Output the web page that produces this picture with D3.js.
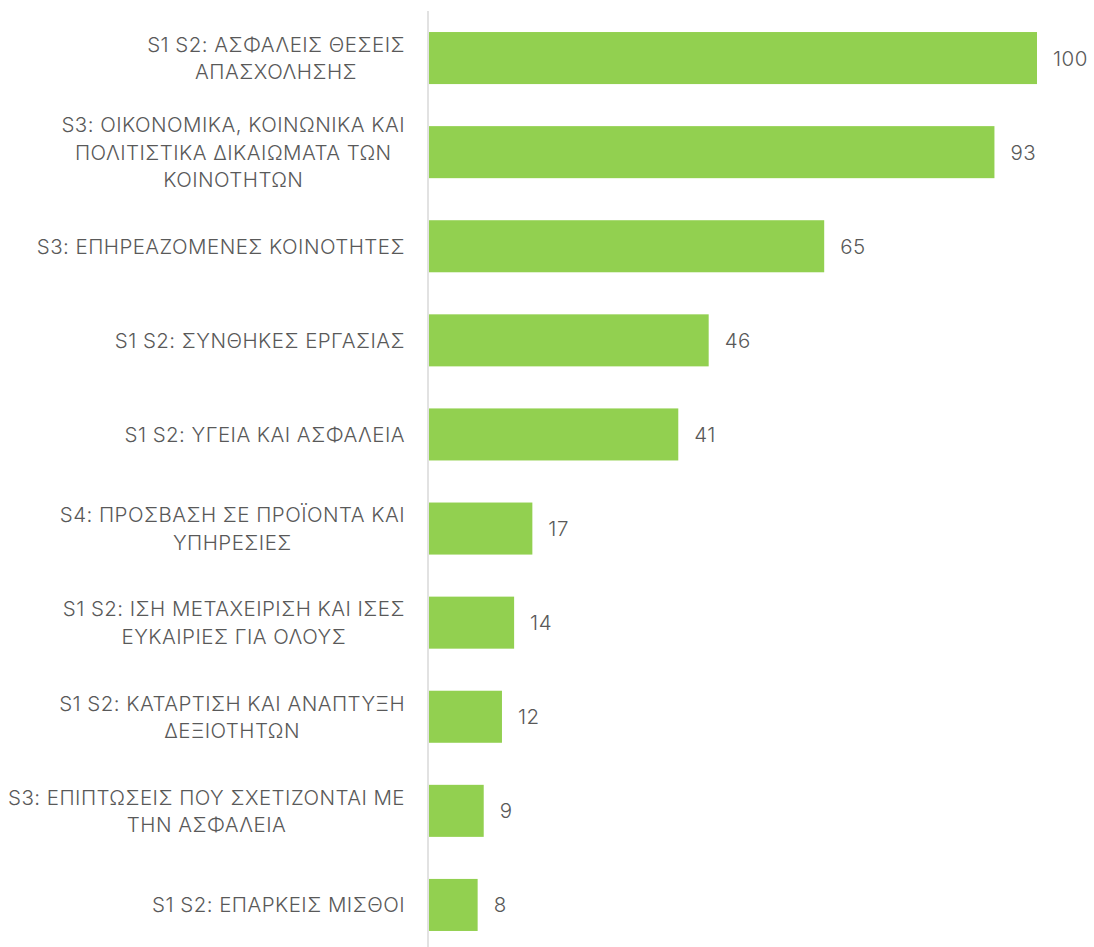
<!DOCTYPE html>
<html lang="el">
<head>
	<meta charset="utf-8">
	<title>Θέματα</title>
	<script src="https://d3js.org/d3.v7.min.js"></script>
	<style type="text/css">
		body { margin: 0; background: #fff; }
		.label text, .value {
			font-family: Inter, "Noto Sans", sans-serif;
			font-size: 20.5px;
			font-weight: 300;
			letter-spacing: 0.45px;
			fill: #595959;
		}
	</style>
</head>
<body>
	<script type="text/javascript">

		// Categories (line breaks as in the picture) and their values
		var categories = [
			"S1 S2: ΑΣΦΑΛΕΙΣ ΘΕΣΕΙΣ\nΑΠΑΣΧΟΛΗΣΗΣ",
			"S3: ΟΙΚΟΝΟΜΙΚΑ, ΚΟΙΝΩΝΙΚΑ ΚΑΙ\nΠΟΛΙΤΙΣΤΙΚΑ ΔΙΚΑΙΩΜΑΤΑ ΤΩΝ\nΚΟΙΝΟΤΗΤΩΝ",
			"S3: ΕΠΗΡΕΑΖΟΜΕΝΕΣ ΚΟΙΝΟΤΗΤΕΣ",
			"S1 S2: ΣΥΝΘΗΚΕΣ ΕΡΓΑΣΙΑΣ",
			"S1 S2: ΥΓΕΙΑ ΚΑΙ ΑΣΦΑΛΕΙΑ",
			"S4: ΠΡΟΣΒΑΣΗ ΣΕ ΠΡΟΪΟΝΤΑ ΚΑΙ\nΥΠΗΡΕΣΙΕΣ",
			"S1 S2: ΙΣΗ ΜΕΤΑΧΕΙΡΙΣΗ ΚΑΙ ΙΣΕΣ\nΕΥΚΑΙΡΙΕΣ ΓΙΑ ΟΛΟΥΣ",
			"S1 S2: ΚΑΤΑΡΤΙΣΗ ΚΑΙ ΑΝΑΠΤΥΞΗ\nΔΕΞΙΟΤΗΤΩΝ",
			"S3: ΕΠΙΠΤΩΣΕΙΣ ΠΟΥ ΣΧΕΤΙΖΟΝΤΑΙ ΜΕ\nΤΗΝ ΑΣΦΑΛΕΙΑ",
			"S1 S2: ΕΠΑΡΚΕΙΣ ΜΙΣΘΟΙ"
		];
		var values = [100, 93, 65, 46, 41, 17, 14, 12, 9, 8];

		var width = 1094, height = 947;
		var axisX = 428;

		var svg = d3.select("body")
					.append("svg")
					.attr("width", width)
					.attr("height", height);

		var xScale = d3.scaleLinear()
						.domain([0, 100])
						.range([axisX + 1, 1037]);

		var yScale = d3.scaleBand()
						.domain(categories)
						.range([11, 952])
						.paddingInner(0.447)
						.paddingOuter(0.2235);

		// Bars
		svg.selectAll("rect")
		   .data(values)
		   .enter()
			   .append("rect")
			   .attr("x", xScale(0))
			   .attr("y", function(d, i) { return yScale(categories[i]); })
			   .attr("width", function(d) { return xScale(d) - xScale(0); })
			   .attr("height", yScale.bandwidth())
			   .attr("fill", "#92d050");

		// Vertical axis line
		svg.append("line")
			.attr("x1", axisX).attr("x2", axisX)
			.attr("y1", 11).attr("y2", height)
			.attr("stroke", "#d9d9d9")
			.attr("stroke-width", 1.5);

		// Category labels, right aligned, multi line
		var lineHeight = 27.5;
		var labels = svg.append("g").attr("class", "label")
			.selectAll("text")
			.data(categories)
			.enter()
				.append("text")
				.attr("text-anchor", "middle")
				.attr("y", function(d) { return yScale(d) + yScale.bandwidth() / 2; });

		labels.each(function(d) {
			var lines = d.split("\n");
			var t = d3.select(this);
			var top = -(lines.length - 1) * lineHeight / 2;
			lines.forEach(function(line, j) {
				t.append("tspan")
				 .attr("x", 0)
				 .attr("dy", j === 0 ? top : lineHeight)
				 .attr("dominant-baseline", "central")
				 .text(line);
			});
		});

		// Centre each block under the widest line, then align right edge at 405
		labels.each(function() {
			var t = d3.select(this);
			var w = this.getBBox().width;
			t.attr("transform", "translate(" + (405 - w / 2) + ",0)");
		});

		// Value labels
		svg.selectAll(".value")
		   .data(values)
		   .enter()
			   .append("text")
			   .attr("class", "value")
			   .attr("x", function(d) { return xScale(d) + 16; })
			   .attr("y", function(d, i) { return yScale(categories[i]) + yScale.bandwidth() / 2; })
			   .attr("dominant-baseline", "central")
			   .text(function(d) { return d; });

	</script>
</body>
</html>
